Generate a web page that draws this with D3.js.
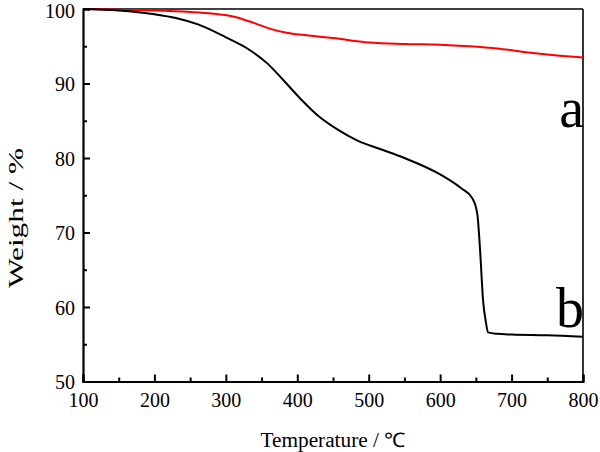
<!DOCTYPE html>
<html>
<head>
<meta charset="utf-8">
<script src="https://cdn.jsdelivr.net/npm/d3@7"></script>
<style>
  body { margin: 0; background: #fff; }
  svg text { font-family: "Liberation Serif", "Times New Roman", serif !important; fill: #000; }
</style>
</head>
<body>
<svg id="chart" width="600" height="452"></svg>
<script>
// ---- data ----
const xTicks = [100, 200, 300, 400, 500, 600, 700, 800];
const yTicks = [50, 60, 70, 80, 90, 100];
const seriesLabels = ["a", "b"];
const seriesA_T = [100, 150, 200, 250, 280, 310, 340, 360, 385, 420, 450, 500, 550, 600, 640, 680, 720, 760, 800];
const seriesA_W = [100, 99.9, 99.8, 99.6, 99.4, 99.0, 98.1, 97.4, 96.8, 96.4, 96.1, 95.5, 95.3, 95.2, 95.0, 94.7, 94.2, 93.8, 93.5];
const seriesB_T = [100, 150, 200, 230, 262, 300, 330, 358, 380, 404, 430, 455, 485, 516, 550, 600, 630, 645, 652, 656, 660, 664, 667, 680, 700, 750, 800];
const seriesB_W = [100, 99.8, 99.3, 98.8, 97.9, 96.2, 94.7, 92.7, 90.5, 88.0, 85.6, 83.9, 82.3, 81.2, 80.0, 77.8, 75.9, 74.6, 72.5, 67.5, 61.0, 58.0, 56.6, 56.4, 56.3, 56.2, 56.0];

const svg = d3.select("#chart");
const L = 83, R = 583, T = 9, B = 381.5;
const x = d3.scaleLinear().domain([100, 800]).range([L, R]);
const y = d3.scaleLinear().domain([50, 100]).range([B, T]);
const FONT = '"Liberation Serif", "Times New Roman", serif';

// frame top/right
svg.append("line").attr("x1", L).attr("x2", R).attr("y1", T).attr("y2", T).attr("stroke", "#000").attr("stroke-width", 1.6);
svg.append("line").attr("x1", R).attr("x2", R).attr("y1", T).attr("y2", B).attr("stroke", "#000").attr("stroke-width", 1.6);

// curves
const line = d3.line().x(d => x(d[0])).y(d => y(d[1])).curve(d3.curveMonotoneX);
const dataA = seriesA_T.map((t, i) => [t, seriesA_W[i]]);
const dataB = seriesB_T.map((t, i) => [t, seriesB_W[i]]);
svg.append("path").datum(dataA).attr("d", line).attr("fill", "none").attr("stroke", "#ff0000").attr("stroke-width", 2);
svg.append("path").datum(dataB).attr("d", line).attr("fill", "none").attr("stroke", "#000").attr("stroke-width", 2);

// axes
const xMinor = d3.range(150, 800, 100);
const yMinor = d3.range(55, 100, 10);
const xAxis = d3.axisBottom(x).tickValues(xTicks).tickSize(-7).tickPadding(16).tickFormat(d3.format("d"));
const gx = svg.append("g").attr("transform", `translate(0,${B})`).call(xAxis).attr("font-family", FONT).attr("font-size", 20);
gx.selectAll(".tick text").attr("dy", "0").attr("y", 25.5);
gx.select(".domain").attr("stroke-width", 2.2);
gx.selectAll(".tick line").attr("stroke-width", 2);
const gxm = svg.append("g").attr("transform", `translate(0,${B})`).call(d3.axisBottom(x).tickValues(xMinor).tickSize(-4).tickFormat(""));
gxm.select(".domain").remove();
gxm.selectAll(".tick line").attr("stroke-width", 2);

const yAxis = d3.axisLeft(y).tickValues(yTicks).tickSize(-7).tickPadding(8).tickFormat(d3.format("d"));
const gy = svg.append("g").attr("transform", `translate(${L},0)`).call(yAxis).attr("font-family", FONT).attr("font-size", 20);
gy.selectAll(".tick text").attr("dy", "0.35em");
gy.selectAll(".tick").filter(d => d === 100).select("text").attr("dy", "0.42em");
gy.select(".domain").attr("stroke-width", 2.2);
gy.selectAll(".tick line").attr("stroke-width", 2);
const gym = svg.append("g").attr("transform", `translate(${L},0)`).call(d3.axisLeft(y).tickValues(yMinor).tickSize(-4).tickFormat(""));
gym.select(".domain").remove();
gym.selectAll(".tick line").attr("stroke-width", 2);
svg.selectAll(".domain").attr("stroke", "#000");

// titles
svg.append("text").attr("x", 333).attr("y", 447).attr("text-anchor", "middle").attr("font-size", 20)
  .attr("textLength", 145).attr("lengthAdjust", "spacingAndGlyphs").text("Temperature / ℃");
svg.append("text").attr("transform", "translate(23,218) rotate(-90)").attr("text-anchor", "middle")
  .attr("font-size", 22).attr("textLength", 140).attr("lengthAdjust", "spacingAndGlyphs").text("Weight / %");

// series labels
svg.append("text").attr("x", 584).attr("y", 127).attr("text-anchor", "end").attr("font-size", 56).text(seriesLabels[0]);
svg.append("text").attr("x", 584).attr("y", 327).attr("text-anchor", "end").attr("font-size", 56).text(seriesLabels[1]);
</script>
</body>
</html>
